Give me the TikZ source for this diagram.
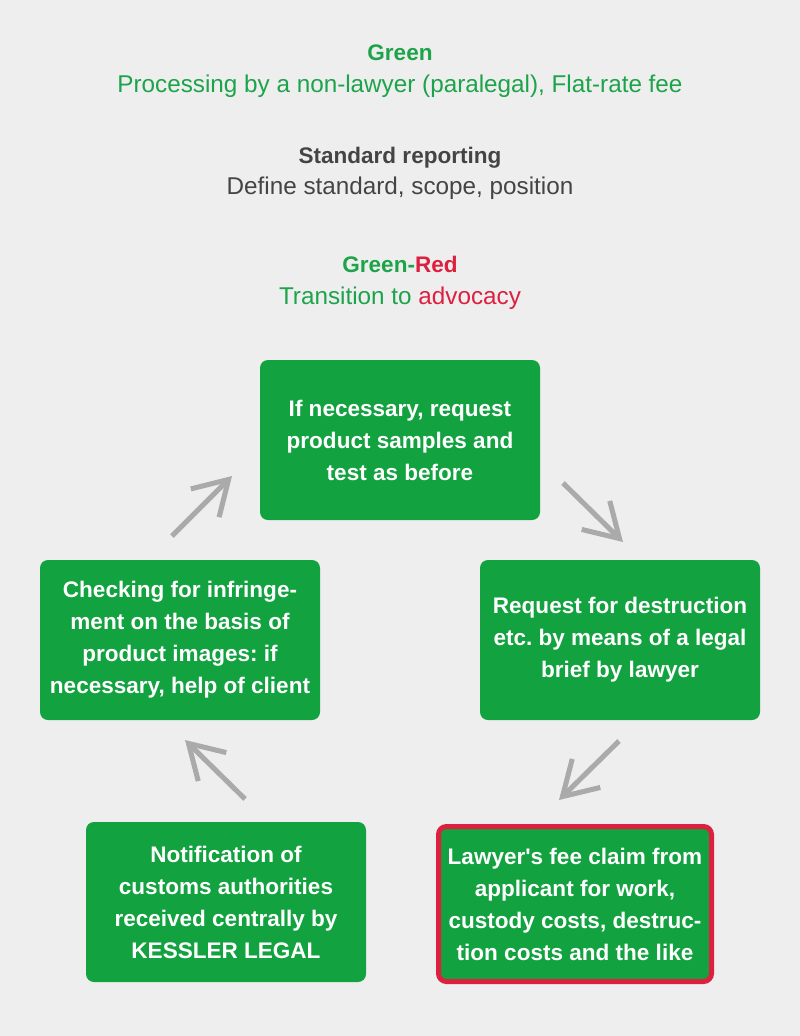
\documentclass[tikz,border=0pt]{standalone}
\usepackage{fontspec}
\setmainfont{Liberation Sans}
\usetikzlibrary{arrows.meta}
\definecolor{bg}{HTML}{EEEEEE}
\definecolor{boxgreen}{HTML}{12A23F}
\definecolor{txtgreen}{HTML}{1DA34A}
\definecolor{myred}{HTML}{DD1F40}
\definecolor{darktxt}{HTML}{444444}
\definecolor{arrgray}{HTML}{AAAAAA}
\tikzset{
  stepbox/.style={fill=boxgreen, rounded corners=6pt, minimum width=210pt, minimum height=120pt,
    text=white, align=center, font=\fontsize{16.9pt}{24pt}\selectfont\bfseries\frenchspacing, inner sep=0pt},
  redbox/.style={stepbox, draw=myred, line width=3.75pt, minimum width=204.75pt, minimum height=116.25pt},
  head/.style={anchor=base, font=\fontsize{16.9pt}{21pt}\selectfont\bfseries},
  sub/.style={anchor=base, font=\fontsize{18.2pt}{21pt}\selectfont},
  arr/.style={draw=arrgray, line width=3.8pt, line cap=butt,
    -{Straight Barb[length=25pt, width=30pt, line cap=butt, line join=miter]}}
}
\begin{document}
\begin{tikzpicture}[x=0.75pt, y=-0.75pt]
\fill[bg] (0,0) rectangle (800,1036);
\useasboundingbox (0,0) rectangle (800,1036);

\node[head, text=txtgreen] (h1) at (400,60) {Green};
\node[sub, text=txtgreen] (s1) at (400,92) {Processing by a non-lawyer (paralegal), Flat-rate fee};
\node[head, text=darktxt] (h2) at (400,163) {Standard reporting};
\node[sub, text=darktxt] (s2) at (400,194) {Define standard, scope, position};
\node[head] (h3) at (400,272) {\textcolor{txtgreen}{Green-}\textcolor{myred}{Red}};
\node[sub] (s3) at (400,304) {\textcolor{txtgreen}{Transition to }\textcolor{myred}{advocacy}};

\node[stepbox] (top) at (400,440) {If necessary, request\\product samples and\\test as before};
\node[stepbox] (left) at (180,640) {Checking for infringe-\\ment on the basis of\\product images: if\\necessary, help of client};
\node[stepbox] (right) at (620,640) {Request for destruction\\etc. by means of a legal\\brief by lawyer};
\node[stepbox] (bl) at (226,902) {Notification of\\customs authorities\\received centrally by\\KESSLER LEGAL};
\node[redbox] (br) at (575,904) {Lawyer\textquotesingle s fee claim from\\applicant for work,\\custody costs, destruc-\\tion costs and the like};

\coordinate (a1s) at (172,536); \coordinate (a1e) at (232,476);
\coordinate (a2s) at (563,483); \coordinate (a2e) at (623,542);
\coordinate (a3s) at (619,741); \coordinate (a3e) at (559,800);
\coordinate (a4s) at (245,799); \coordinate (a4e) at (185,740);
\draw[arr] (a1s) -- (a1e);
\draw[arr] (a2s) -- (a2e);
\draw[arr] (a3s) -- (a3e);
\draw[arr] (a4s) -- (a4e);
\end{tikzpicture}
\end{document}
